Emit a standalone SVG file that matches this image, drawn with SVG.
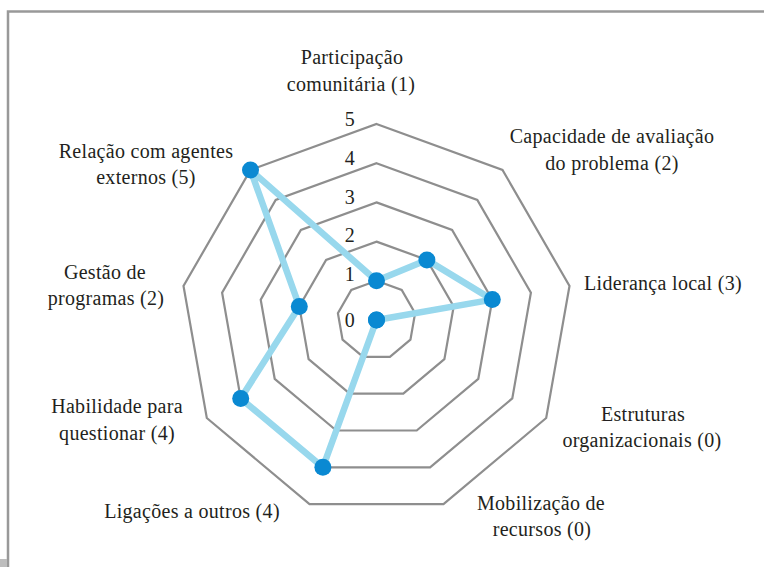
<svg xmlns="http://www.w3.org/2000/svg" width="764" height="567" viewBox="0 0 764 567">
<style>
text{font-family:'Liberation Serif','DejaVu Serif',serif;font-size:20px;fill:#231f20;letter-spacing:0.3px}
.lbl{text-anchor:middle}
.ring{fill:none;stroke:#8e8e8e;stroke-width:2.2;stroke-linejoin:miter}
.data{fill:none;stroke:#98d8ed;stroke-width:6.5;stroke-linejoin:round}
.dot{fill:#0a89d2}
.tick{text-anchor:middle}
</style>
<rect width="764" height="567" fill="#ffffff"/>
<path d="M8 567V11.5H764" fill="none" stroke="#999999" stroke-width="2.5"/>
<rect x="0" y="559" width="7" height="8" fill="#bdbdbd"/>
<g id="grid">
<polygon class="ring" points="376.5,280.8 401.7,290 415.1,313.2 410.45,339.6 389.9,356.8 363.1,356.8 342.55,339.6 337.9,313.2 351.3,290"/>
<polygon class="ring" points="376.5,241.6 426.9,259.9 453.7,306.4 444.4,359.2 403.3,393.7 349.7,393.7 308.6,359.2 299.3,306.4 326.1,259.9"/>
<polygon class="ring" points="376.5,202.4 452.1,229.9 492.3,299.6 478.3,378.8 416.7,430.5 336.3,430.5 274.7,378.8 260.7,299.6 300.9,229.9"/>
<polygon class="ring" points="376.5,163.2 477.3,199.9 530.9,292.8 512.3,398.4 430.1,467.3 322.9,467.3 240.7,398.4 222.1,292.8 275.7,199.9"/>
<polygon class="ring" points="376.5,124 502.5,169.9 569.5,286 546.2,418 443.5,504.2 309.5,504.2 206.8,418 183.5,286 250.5,169.9"/>
</g>
<g id="scale" font-family="Liberation Serif, serif">
<text class="tick" x="350" y="126">5</text>
<text class="tick" x="350" y="165">4</text>
<text class="tick" x="350" y="204">3</text>
<text class="tick" x="350" y="242">2</text>
<text class="tick" x="350" y="281">1</text>
<text class="tick" x="350" y="327">0</text>
</g>
<g id="connectors">
<polygon class="data" points="376.5,280.8 426.9,259.9 492.3,299.6 376.5,320 376.5,320 322.9,467.3 240.7,398.4 299.3,306.4 250.5,169.9"/>
</g>
<g id="participacao">
<circle class="dot" cx="376.5" cy="280.8" r="8.5"/>
<text class="lbl" x="352" y="64">Participação</text>
<text class="lbl" x="351" y="91">comunitária (1)</text>
</g>
<g id="capacidade">
<circle class="dot" cx="426.9" cy="259.9" r="8.5"/>
<text class="lbl" x="612" y="143">Capacidade de avaliação</text>
<text class="lbl" x="612" y="170">do problema (2)</text>
</g>
<g id="lideranca">
<circle class="dot" cx="492.3" cy="299.6" r="8.5"/>
<text class="lbl" x="663" y="290">Liderança local (3)</text>
</g>
<g id="estruturas">
<circle class="dot" cx="376.5" cy="320" r="8.5"/>
<text class="lbl" x="643" y="421">Estruturas</text>
<text class="lbl" x="642" y="447">organizacionais (0)</text>
</g>
<g id="mobilizacao">
<circle class="dot" cx="376.5" cy="320" r="8.5"/>
<text class="lbl" x="541" y="510">Mobilização de</text>
<text class="lbl" x="542" y="536">recursos (0)</text>
</g>
<g id="ligacoes">
<circle class="dot" cx="322.9" cy="467.3" r="8.5"/>
<text class="lbl" x="192" y="518">Ligações a outros (4)</text>
</g>
<g id="habilidade">
<circle class="dot" cx="240.7" cy="398.4" r="8.5"/>
<text class="lbl" x="117" y="413">Habilidade para</text>
<text class="lbl" x="117" y="440">questionar (4)</text>
</g>
<g id="gestao">
<circle class="dot" cx="299.3" cy="306.4" r="8.5"/>
<text class="lbl" x="105" y="279">Gestão de</text>
<text class="lbl" x="106" y="305">programas (2)</text>
</g>
<g id="relacao">
<circle class="dot" cx="250.5" cy="169.9" r="8.5"/>
<text class="lbl" x="146" y="158">Relação com agentes</text>
<text class="lbl" x="146" y="184">externos (5)</text>
</g>
</svg>
